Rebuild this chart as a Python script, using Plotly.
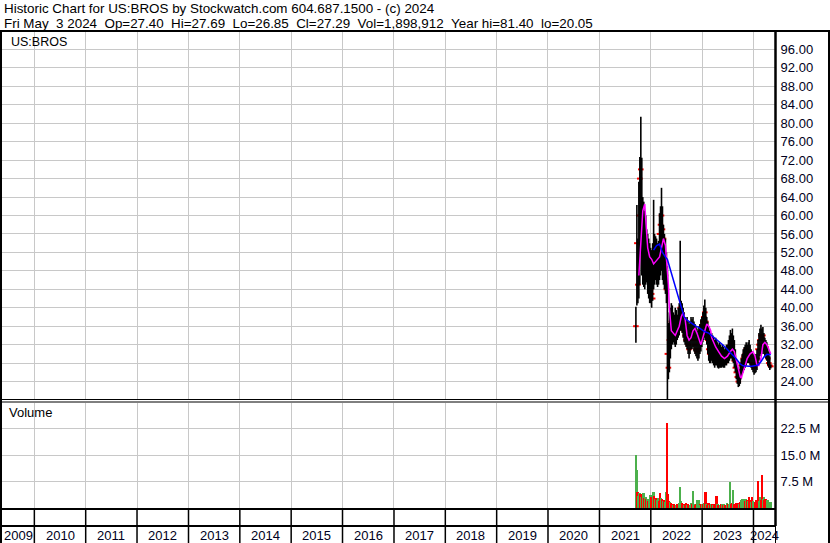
import plotly.graph_objects as go
import pandas as pd

W, H = 830, 543

header_line1 = "Historic Chart for US:BROS by Stockwatch.com 604.687.1500 - (c) 2024"
header_line2 = ("Fri May\u00a0\u00a03 2024\u00a0\u00a0Op=27.40\u00a0\u00a0Hi=27.69\u00a0\u00a0Lo=26.85\u00a0\u00a0"
                "Cl=27.29\u00a0\u00a0Vol=1,898,912\u00a0\u00a0Year hi=81.40\u00a0\u00a0lo=20.05")
symbol_label = "US:BROS"
volume_label = "Volume"

# weekly bars, first week ending 2021-09-17, last 2024-05-03
weeks = pd.date_range("2021-09-17", periods=138, freq="7D")

price_high = [40.2, 62.3, 55, 67.3, 72.7, 81.4, 72.5, 64, 63, 61,
              60, 57, 56, 55, 54, 53, 52.5, 54, 63.4, 56,
              55.5, 55, 54, 54.5, 60.5, 62, 66, 62, 58, 56,
              55, 52, 49, 36.7, 39, 40, 41, 40.5, 39, 38.5,
              40, 39.5, 38.5, 40, 41, 54.5, 41.5, 41, 40, 39,
              38, 37.5, 38, 37, 36.5, 37, 38, 37.5, 38, 37,
              36.5, 36, 35.5, 35, 36, 36.5, 37.5, 38, 39, 40.5,
              41.8, 40, 38, 37, 36, 35, 34, 34.5, 34, 33.5,
              33, 33.5, 33, 32.5, 32, 32.5, 32, 31.5, 32, 31.5,
              31, 31.5, 32, 32, 33, 34, 35.2, 34.5, 35.5, 34,
              33, 31, 29, 28, 27, 26.5, 28, 29, 30, 31,
              31.5, 32, 32.5, 32, 32.5, 33, 32, 31, 30.5, 30,
              30, 29.5, 30, 31, 33, 34.5, 35.5, 36.3, 35.5, 35.8,
              34.5, 33.5, 33, 32.5, 31.5, 30.5, 29.5, 27.69]

price_low = [32.4, 40.5, 41, 42, 45, 52, 47, 45, 44.5, 44,
             45, 45.5, 43, 42, 41, 41, 40, 41.5, 44, 45,
             46, 45, 44.5, 45, 46, 47, 48, 46, 45, 44,
             43, 41, 20.1, 24.5, 26, 29, 31, 32, 32.5, 32,
             31.5, 32, 33, 33.5, 34, 35, 35, 34.5, 33.5, 32.5,
             32, 31.5, 31, 30, 29, 30, 31, 31, 31.5, 30.5,
             30, 29.5, 29, 28.5, 29, 30, 30.5, 31.5, 32.5, 33,
             33.5, 33, 32, 30, 28.5, 28, 28, 28.5, 28, 27.5,
             27, 27.5, 27.5, 27, 26.8, 27, 27, 27, 27.2, 27,
             27, 27.5, 27.5, 28, 28, 28.5, 29, 29, 28.5, 28,
             27, 26, 24.5, 23.5, 22.8, 23, 23.5, 24.5, 25.5, 26,
             26.5, 27, 27.5, 28, 28, 28, 27.5, 27, 26.5, 26,
             25.5, 25.8, 26, 26.5, 27.5, 28.5, 29.5, 30, 30, 30.5,
             30, 29.5, 29, 28.5, 27.5, 27, 26.5, 26.85]

price_close = [36, 54, 45, 60, 68, 70, 62, 55, 52, 50,
               53, 50, 48, 47, 46, 44, 43, 42, 50, 52,
               50, 49, 48, 50, 56, 58, 60, 57, 55, 50,
               47, 44, 30, 27, 33, 34, 37, 35, 34, 35,
               34, 36, 35, 37, 38, 40, 39, 38, 36, 35,
               34, 33, 33.5, 32, 31, 33, 34, 35, 34, 33,
               32, 31, 30.5, 31, 33, 34, 35, 36, 37, 38,
               39, 37, 34, 33, 31, 30, 30.5, 31, 30, 29.5,
               29, 30, 29.5, 29, 28.5, 29, 28.5, 28, 29, 28.5,
               28, 29, 29.5, 30, 30, 31, 32, 31, 30, 29.5,
               28.5, 27, 26, 25, 24, 25, 26.5, 27.5, 28, 29,
               29.5, 30, 31, 30.5, 30, 30.5, 29.5, 29, 28, 27.5,
               27, 27.5, 28, 29, 31, 32, 33, 34, 33.5, 34,
               32, 31, 31.5, 30, 29, 28, 27.5, 27.29]

# short moving average (magenta), sampled at week indices
ma_short_week = [3, 5, 7, 9, 10, 11, 12, 14, 16, 18, 20, 22, 24, 26, 28, 30, 32, 33, 34, 35,
                 36, 38, 40, 42, 44, 46, 48, 50, 52, 54, 56, 58, 60, 62, 64, 66, 68, 70, 72, 74,
                 76, 77, 79, 81, 84, 87, 90, 93, 96, 98, 100, 102, 104, 106, 107, 109, 111, 113, 116, 119,
                 121, 123, 125, 127, 129, 131, 133, 135, 137]
ma_short = [47, 55, 61, 62.5, 60, 56, 53, 51, 50.5, 49.5, 50, 50.5, 51, 53, 55, 53.5, 49, 45, 40, 37,
            35, 34.5, 34, 35, 36, 38, 39, 37.5, 34, 33, 33.5, 35, 35.5, 34.5, 33, 32, 33.5, 35, 36.5, 36,
            35, 33.5, 32.5, 31.5, 30.5, 29.5, 29, 29.5, 30.5, 31, 30.5, 28.5, 26.5, 25, 24.8, 26, 27.5, 29, 30, 30.5,
            29.5, 27.5, 27.5, 29, 32, 32.5, 32, 31, 30]

# long moving average (blue), sampled at week indices
ma_long_week = [18, 21, 24, 27, 30, 32, 34, 36, 38, 40, 42, 44, 46, 49, 52, 55, 58, 61, 64, 67,
                70, 74, 77, 81, 84, 87, 91, 94, 97, 100, 103, 106, 109, 112, 115, 118, 121, 124, 127, 130,
                133, 137]
ma_long = [52.5, 53.5, 53.8, 52, 51, 50.5, 49, 47.5, 45.8, 44.5, 42.8, 41.5, 40, 38, 37.3, 36.8, 36.5, 36, 35.7, 35.2,
           34.8, 34.5, 34, 33.4, 32.8, 32.2, 31.4, 30.8, 30, 29.4, 28.6, 27.8, 27.4, 27.3, 27.3, 27.3, 27.4, 27.6, 28.3, 29.3,
           29.9, 29.8]

# weekly volume (millions) and day direction (U = up, D = down)
volume_m = [15.3, 11.0, 4.8, 3.6, 4.3, 4.0, 3.3, 3.5, 4.3, 3.0,
            3.3, 2.6, 2.8, 2.2, 2.5, 3.9, 3.3, 2.4, 4.8, 3.5,
            2.8, 3.0, 2.5, 3.0, 2.2, 4.3, 3.0, 2.6, 2.0, 2.4,
            1.8, 4.8, 24.4, 4.0, 2.0, 1.8, 1.5, 1.2, 1.0, 1.3,
            1.1, 0.9, 1.4, 1.2, 1.5, 6.2, 2.0, 1.5, 1.2, 1.0,
            1.3, 1.6, 1.1, 1.2, 0.9, 1.0, 1.5, 1.2, 5.0, 1.4,
            1.0, 1.3, 2.5, 2.2, 2.5, 1.2, 1.0, 1.1, 1.3, 1.2,
            1.5, 4.8, 1.3, 1.0, 1.5, 1.1, 1.0, 1.4, 1.2, 0.9,
            1.0, 1.3, 3.6, 1.2, 1.0, 1.1, 0.9, 1.4, 1.2, 1.0,
            1.3, 1.1, 1.0, 1.5, 1.2, 1.4, 7.4, 1.3, 1.6, 5.3,
            1.4, 1.2, 1.5, 1.3, 1.6, 1.4, 1.8, 2.5, 2.7, 2.5,
            2.6, 2.2, 2.8, 2.4, 2.0, 3.3, 2.5, 1.9, 3.3, 2.0,
            1.9, 1.8, 2.4, 2.4, 7.8, 2.2, 3.3, 2.5, 9.4, 2.8,
            3.3, 2.5, 2.8, 2.2, 2.5, 1.4, 1.8, 1.9]
vol_direction = ["U", "U", "D", "U", "U", "D", "U", "D", "U", "D",
                 "U", "D", "U", "D", "U", "U", "D", "D", "U", "D",
                 "U", "D", "U", "U", "D", "D", "U", "D", "U", "D",
                 "U", "U", "D", "D", "D", "U", "D", "D", "U", "D",
                 "D", "U", "D", "D", "U", "U", "U", "D", "D", "U",
                 "D", "D", "U", "D", "D", "U", "U", "D", "U", "U",
                 "D", "D", "U", "U", "U", "D", "U", "D", "U", "D",
                 "U", "D", "U", "D", "D", "U", "D", "U", "D", "U",
                 "D", "D", "D", "U", "D", "D", "U", "D", "U", "D",
                 "U", "D", "D", "U", "D", "U", "U", "D", "D", "U",
                 "D", "D", "D", "D", "D", "U", "D", "U", "U", "U",
                 "U", "D", "U", "D", "U", "D", "D", "U", "D", "U",
                 "U", "D", "D", "D", "D", "U", "U", "D", "D", "U",
                 "U", "D", "D", "D", "U", "U", "U", "U"]

price_ticks = [24, 28, 32, 36, 40, 44, 48, 52, 56, 60, 64, 68, 72, 76, 80, 84, 88, 92, 96]
volume_ticks_m = [7.5, 15.0, 22.5]
years = list(range(2009, 2025))

x_start = pd.Timestamp("2009-05-16")
x_end = pd.Timestamp("2024-06-02")

FONT = "Arial, Liberation Sans, sans-serif"
GRID = "#c8c8c8"
UP_COLOR = "#4cb04c"
DOWN_COLOR = "#ff0000"


def px(x):
    return x / W


def py(y):
    return 1 - y / H


fig = go.Figure()

# close ticks (drawn first, so neighbouring bars partly cover them)
fig.add_trace(go.Scatter(x=weeks, y=price_close, mode="markers",
                         marker=dict(symbol="line-ew", size=4, line=dict(color="#ff0000", width=2)),
                         hoverinfo="skip", xaxis="x", yaxis="y"))

# price high-low bars
bx, by = [], []
for d, lo, hi in zip(weeks, price_low, price_high):
    bx += [d, d, None]
    by += [lo, hi, None]
fig.add_trace(go.Scatter(x=bx, y=by, mode="lines", line=dict(color="black", width=1.6),
                         hoverinfo="skip", xaxis="x", yaxis="y"))

fig.add_trace(go.Scatter(x=[weeks[i] for i in ma_short_week], y=ma_short, mode="lines",
                         line=dict(color="#ff00ff", width=1.5), hoverinfo="skip", xaxis="x", yaxis="y"))
fig.add_trace(go.Scatter(x=[weeks[i] for i in ma_long_week], y=ma_long, mode="lines",
                         line=dict(color="#0000ff", width=1.5), hoverinfo="skip", xaxis="x", yaxis="y"))

# volume bars (interleaved colours)
bar_width_ms = 1.8 * 7 * 24 * 3600 * 1000
fig.add_trace(go.Bar(x=weeks, y=[v * 1e6 for v in volume_m], width=bar_width_ms,
                     marker=dict(color=[UP_COLOR if s == "U" else DOWN_COLOR for s in vol_direction],
                                 line=dict(width=0)),
                     hoverinfo="skip", xaxis="x2", yaxis="y2"))

xcommon = dict(type="date", range=[x_start, x_end], domain=[px(2), px(775)],
               showgrid=True, gridcolor=GRID, gridwidth=1, dtick="M12", tick0="2010-01-01",
               showticklabels=False, ticks="", zeroline=False, showline=False, fixedrange=True)

fig.update_layout(
    width=W, height=H,
    margin=dict(l=0, r=0, t=0, b=0),
    paper_bgcolor="white", plot_bgcolor="white",
    showlegend=False, barmode="overlay", bargap=0,
    font=dict(family=FONT, size=12, color="black"),
    xaxis=dict(**xcommon, anchor="y"),
    xaxis2=dict(**xcommon, anchor="y2", matches="x"),
    yaxis=dict(domain=[py(400), py(31)], range=[20, 100], side="right", anchor="x",
               tickvals=price_ticks, ticktext=[f"{v:.2f}" for v in price_ticks],
               showgrid=True, gridcolor=GRID, gridwidth=1, zeroline=False, showline=False,
               ticks="outside", ticklen=2, tickcolor="rgba(0,0,0,0)",
               tickfont=dict(family=FONT, size=13, color="#000020")),
    yaxis2=dict(domain=[py(508), py(402.5)], range=[0, 30e6], side="right", anchor="x2",
                tickvals=[v * 1e6 for v in volume_ticks_m], ticktext=[f"{v:.1f} M" for v in volume_ticks_m],
                showgrid=True, gridcolor=GRID, gridwidth=1, zeroline=False, showline=False,
                ticks="outside", ticklen=2, tickcolor="rgba(0,0,0,0)",
                tickfont=dict(family=FONT, size=13, color="#000020")),
)

shapes = []
blk = "black"


def hline(y, x0, x1, w):
    shapes.append(dict(type="line", xref="paper", yref="paper", x0=px(x0), x1=px(x1), y0=py(y), y1=py(y),
                       line=dict(color=blk, width=w)))


def vline(x, y0, y1, w):
    shapes.append(dict(type="line", xref="paper", yref="paper", x0=px(x), x1=px(x), y0=py(y0), y1=py(y1),
                       line=dict(color=blk, width=w)))


hline(31, 0, 830, 2)
hline(399.5, 0, 830, 1)
hline(402, 0, 830, 1)
hline(509, 0, 776, 2)
hline(526, 0, 776, 2)
vline(1, 31, 543, 2)
vline(775.5, 31, 526, 2.5)
vline(775.5, 526, 543, 1)
vline(829, 31, 543, 2)

for yr in years[1:]:
    shapes.append(dict(type="line", xref="x", yref="paper", x0=f"{yr}-01-01", x1=f"{yr}-01-01",
                       y0=py(543), y1=py(509), line=dict(color=blk, width=1.5)))

fig.update_layout(shapes=shapes)

ann = []
ann.append(dict(text=header_line1, xref="paper", yref="paper", x=px(2), y=py(8.5), xanchor="left",
                yanchor="middle", showarrow=False, font=dict(family=FONT, size=13.4, color="black")))
ann.append(dict(text=header_line2, xref="paper", yref="paper", x=px(2), y=py(23), xanchor="left",
                yanchor="middle", showarrow=False, font=dict(family=FONT, size=13.4, color="black")))
ann.append(dict(text=symbol_label, xref="paper", yref="paper", x=px(9), y=py(42.5), xanchor="left",
                yanchor="middle", showarrow=False, font=dict(family=FONT, size=12.5, color="black")))
ann.append(dict(text=volume_label, xref="paper", yref="paper", x=px(7), y=py(413), xanchor="left",
                yanchor="middle", showarrow=False, font=dict(family=FONT, size=13, color="black")))

for yr in years:
    a = max(pd.Timestamp(f"{yr}-01-01"), x_start)
    b = min(pd.Timestamp(f"{yr + 1}-01-01"), x_end)
    mid = a + (b - a) / 2
    ann.append(dict(text=str(yr), xref="x", yref="paper", x=mid, y=py(535), xanchor="center",
                    yanchor="middle", showarrow=False, font=dict(family=FONT, size=13, color="#000020")))

fig.update_layout(annotations=ann)

fig.write_html("out.html", config={"displayModeBar": False},
               post_script="document.body.style.margin='0';document.body.style.padding='0';"
                           "document.body.style.overflow='hidden';")
